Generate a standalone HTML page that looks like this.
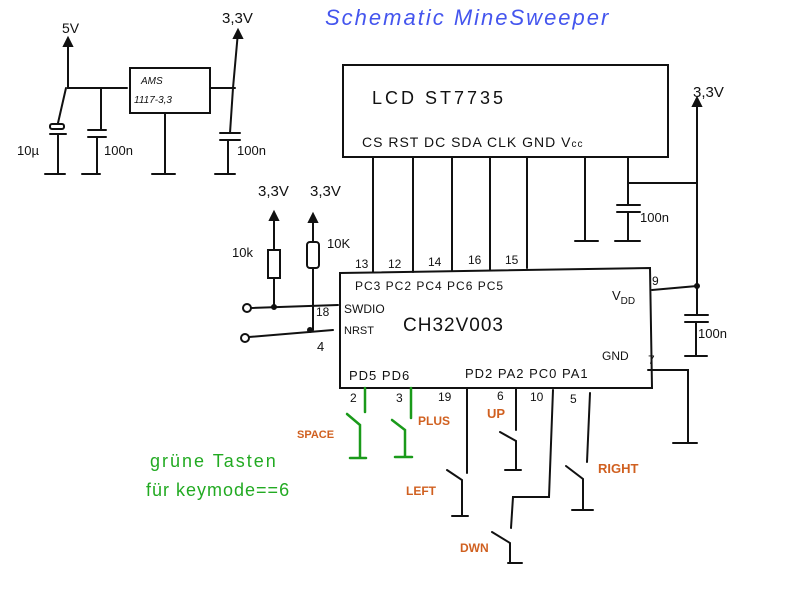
<!DOCTYPE html>
<html><head><meta charset="utf-8"><style>
html,body{margin:0;padding:0;background:#fff;}
svg{display:block;}
text{font-family:"Liberation Sans",sans-serif;}
</style></head><body>
<svg width="800" height="594" viewBox="0 0 800 594" xmlns="http://www.w3.org/2000/svg">
<g stroke="#111" stroke-width="2" fill="none" stroke-linecap="round">
<!-- power section -->
<path d="M68 40 V88 H127"/>
<path d="M64 46 L68 38 L72 46 Z" fill="#111"/>
<rect x="130" y="68" width="80" height="45"/>
<path d="M210 88 H235"/>
<path d="M233 88 L238 32"/>
<path d="M234 38 L238 30 L242 38 Z" fill="#111"/>
<path d="M66 88 L58 123"/>
<rect x="50" y="124" width="14" height="5" rx="2"/>
<path d="M50 134 H66 M58 134 V173 M45 174 H65"/>
<path d="M101 88 V130 M88 130 H106 M88 137 H106 M97 137 V174 M82 174 H100"/>
<path d="M165 113 V174 M152 174 H175"/>
<path d="M233 88 L230 133 M220 133 H240 M220 140 H240 M228 140 V174 M215 174 H235"/>
<!-- LCD -->
<rect x="343" y="65" width="325" height="92"/>
<path d="M373 157 V272 M413 157 V272 M452 157 V270 M490 157 V270 M527 157 V268"/>
<path d="M585 157 V240 M575 241 H598"/>
<path d="M628 157 V183 H697 M697 183 V100"/>
<path d="M693 106 L697 98 L701 106 Z" fill="#111"/>
<path d="M628 183 V205 M617 205 H640 M617 212 H640 M628 212 V240 M615 241 H640"/>
<!-- chip -->
<path d="M340 273 L650 268 L652 388 L340 388 Z"/>
<path d="M652 290 L697 286 M697 183 V315 M685 315 H708 M685 322 H708 M696 322 V355 M685 356 H707"/>
<circle cx="697" cy="286" r="2" fill="#111"/>
<path d="M648 370 H688 V443 M673 443 H697"/>
<!-- left side -->
<circle cx="247" cy="308" r="4"/>
<path d="M251 308 L338 305"/>
<circle cx="245" cy="338" r="4"/>
<path d="M249 337 L333 330"/>
<path d="M274 214 V250 M274 278 V308 M313 216 V242 M313 268 V330"/>
<rect x="268" y="250" width="12" height="28"/>
<rect x="307" y="242" width="12" height="26" rx="3"/>
<path d="M270 220 L274 212 L278 220 Z M309 222 L313 214 L317 222 Z" fill="#111"/>
<circle cx="274" cy="307" r="2" fill="#111"/>
<circle cx="310" cy="330" r="2" fill="#111"/>
<!-- bottom switches -->
<path d="M467 388 V473 M447 470 L462 480 V515 M452 516 H468"/>
<path d="M516 388 V430 M500 432 L516 441 V470 M505 470 H521"/>
<path d="M553 390 L549 497 H513 L511 528 M492 532 L510 543 V562 M508 563 H522"/>
<path d="M590 393 L587 462 M566 466 L583 479 V510 M572 510 H593"/>
</g>
<g stroke="#1a9a1a" stroke-width="2.5" fill="none" stroke-linecap="round">
<path d="M365 388 V412 M347 414 L360 425 V458 M350 458 H366"/>
<path d="M411 388 V418 M392 420 L405 430 V457 M395 457 H412"/>
</g>
<g fill="#111">
<text x="62" y="33" font-size="14">5V</text>
<text x="222" y="23" font-size="15">3,3V</text>
<text x="141" y="84" font-size="10" font-style="italic">AMS</text>
<text x="134" y="103" font-size="10" font-style="italic">1117-3,3</text>
<text x="17" y="155" font-size="13">10µ</text>
<text x="104" y="155" font-size="13">100n</text>
<text x="237" y="155" font-size="13">100n</text>
<text x="372" y="104" font-size="18" letter-spacing="3">LCD  ST7735</text>
<text x="362" y="147" font-size="14" letter-spacing="1">CS RST  DC SDA CLK   GND V<tspan font-size="10">cc</tspan></text>
<text x="693" y="97" font-size="15">3,3V</text>
<text x="640" y="222" font-size="13">100n</text>
<text x="258" y="196" font-size="15">3,3V</text>
<text x="310" y="196" font-size="15">3,3V</text>
<text x="232" y="257" font-size="13">10k</text>
<text x="327" y="248" font-size="13">10K</text>
<text x="355" y="268" font-size="12">13</text>
<text x="388" y="268" font-size="12">12</text>
<text x="428" y="266" font-size="12">14</text>
<text x="468" y="264" font-size="12">16</text>
<text x="505" y="264" font-size="12">15</text>
<text x="355" y="290" font-size="12" letter-spacing="1">PC3   PC2  PC4  PC6  PC5</text>
<text x="344" y="313" font-size="12">SWDIO</text>
<text x="344" y="334" font-size="11">NRST</text>
<text x="403" y="331" font-size="19" letter-spacing="1">CH32V003</text>
<text x="612" y="300" font-size="13">V<tspan font-size="10" dy="4">DD</tspan></text>
<text x="652" y="285" font-size="12">9</text>
<text x="316" y="316" font-size="12">18</text>
<text x="317" y="351" font-size="13">4</text>
<text x="602" y="360" font-size="12">GND</text>
<text x="648" y="364" font-size="12">7</text>
<text x="698" y="338" font-size="13">100n</text>
<text x="349" y="380" font-size="13" letter-spacing="1">PD5  PD6</text>
<text x="465" y="378" font-size="13" letter-spacing="1">PD2 PA2 PC0 PA1</text>
<text x="350" y="402" font-size="12">2</text>
<text x="396" y="402" font-size="12">3</text>
<text x="438" y="401" font-size="12">19</text>
<text x="497" y="400" font-size="12">6</text>
<text x="530" y="401" font-size="12">10</text>
<text x="570" y="403" font-size="12">5</text>
</g>
<g fill="#d06020" font-weight="bold">
<text x="297" y="438" font-size="11">SPACE</text>
<text x="418" y="425" font-size="12">PLUS</text>
<text x="487" y="418" font-size="13">UP</text>
<text x="406" y="495" font-size="12">LEFT</text>
<text x="598" y="473" font-size="13">RIGHT</text>
<text x="460" y="552" font-size="12">DWN</text>
</g>
<g fill="#22aa22">
<text x="150" y="467" font-size="18" letter-spacing="2">grüne Tasten</text>
<text x="146" y="496" font-size="18" letter-spacing="1">für keymode==6</text>
</g>
<text x="325" y="25" font-size="22" fill="#4455ee" font-style="italic" letter-spacing="2">Schematic  MineSweeper</text>
</svg>
</body></html>
